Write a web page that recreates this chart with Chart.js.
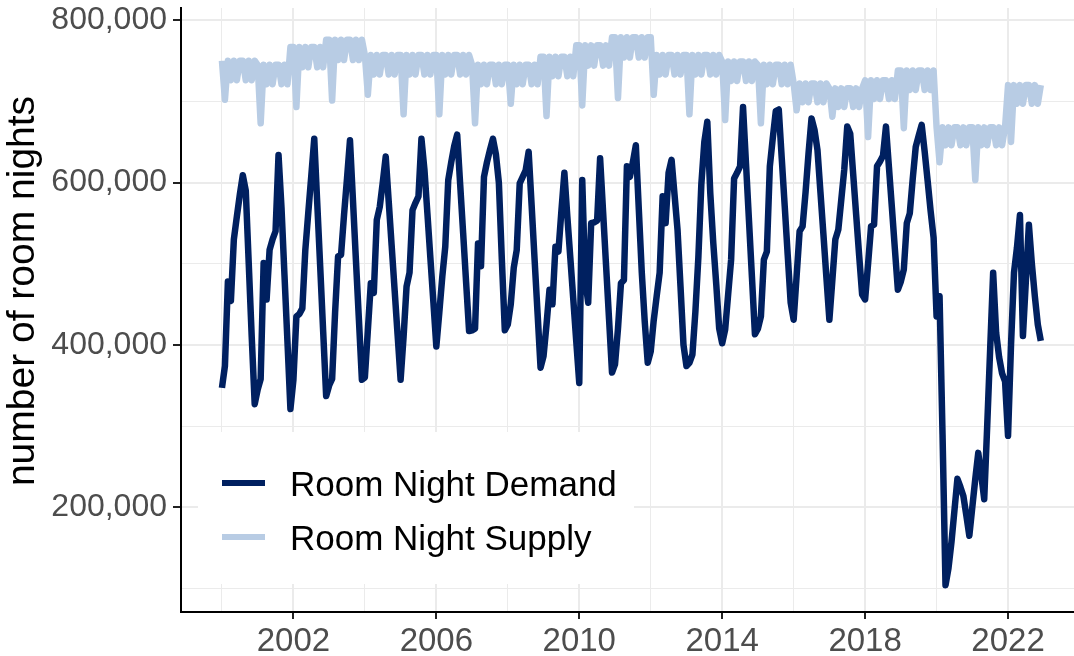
<!DOCTYPE html>
<html>
<head>
<meta charset="utf-8">
<script src="https://cdn.jsdelivr.net/npm/chart.js@4.4.0/dist/chart.umd.min.js"></script>
<style>
  html, body { margin: 0; padding: 0; background: #fff; }
  #wrap { width: 1074px; height: 656px; }
</style>
</head>
<body>
<div id="wrap"><canvas id="roomChart" width="1074" height="656"></canvas></div>
<script>
// one row per year, Jan..Dec
const years = [2000, 2001, 2002, 2003, 2004, 2005, 2006, 2007, 2008, 2009, 2010, 2011,
               2012, 2013, 2014, 2015, 2016, 2017, 2018, 2019, 2020, 2021, 2022];

const roomNightDemand = [
  347000, 374000, 478000, 454000, 530000, 558000, 585000, 609000, 590000, 500000, 410000, 327000,
  345000, 358000, 501000, 456000, 517000, 530000, 540000, 634000, 569000, 486000, 404000, 321000,
  357000, 435000, 438000, 445000, 517000, 563000, 608000, 654000, 575000, 496000, 416000, 337000,
  350000, 358000, 440000, 509000, 511000, 560000, 605000, 652000, 578000, 504000, 431000, 357000,
  360000, 418000, 476000, 464000, 554000, 570000, 600000, 632000, 577000, 522000, 467000, 412000,
  357000, 410000, 472000, 489000, 566000, 575000, 583000, 654000, 616000, 562000, 507000, 453000,
  398000, 440000, 484000, 521000, 603000, 625000, 645000, 659000, 598000, 538000, 477000, 417000,
  418000, 420000, 525000, 497000, 607000, 625000, 640000, 654000, 635000, 600000, 505000, 418000,
  425000, 450000, 495000, 517000, 599000, 607000, 615000, 638000, 572000, 505000, 439000, 372000,
  386000, 425000, 468000, 450000, 521000, 515000, 565000, 612000, 558000, 507000, 456000, 404000,
  353000, 603000, 480000, 452000, 550000, 551000, 553000, 630000, 564000, 498000, 432000, 366000,
  376000, 420000, 476000, 480000, 620000, 607000, 625000, 646000, 567000, 489000, 428000, 378000,
  392000, 430000, 460000, 489000, 583000, 550000, 612000, 628000, 585000, 542000, 472000, 400000,
  374000, 378000, 388000, 441000, 508000, 598000, 650000, 675000, 587000, 526000, 475000, 420000,
  402000, 419000, 462000, 505000, 605000, 612000, 620000, 693000, 623000, 553000, 483000, 413000,
  420000, 435000, 505000, 515000, 620000, 655000, 688000, 690000, 630000, 571000, 511000, 452000,
  431000, 485000, 540000, 546000, 588000, 636000, 679000, 665000, 640000, 588000, 536000, 483000,
  431000, 480000, 530000, 542000, 579000, 616000, 669000, 660000, 610000, 560000, 510000, 462000,
  456000, 500000, 546000, 548000, 620000, 626000, 633000, 669000, 619000, 569000, 518000, 468000,
  478000, 493000, 550000, 562000, 605000, 644000, 658000, 671000, 638000, 602000, 565000, 532000,
  435000, 460000, 290000, 104000, 125000, 157000, 196000, 235000, 225000, 214000, 190000, 165000,
  200000, 235000, 267000, 240000, 210000, 300000, 395000, 489000, 415000, 385000, 365000, 355000,
  288000, 400000, 489000, 520000, 560000, 411000, 480000, 548000, 500000, 460000, 425000, 405000
];

const roomNightSupply = [
  750000, 702000, 750000, 726000, 750000, 726000, 750000, 750000, 726000, 750000, 726000, 750000,
  745000, 673000, 745000, 721000, 745000, 721000, 745000, 745000, 721000, 745000, 721000, 767000,
  767000, 693000, 767000, 742000, 767000, 742000, 767000, 767000, 742000, 767000, 742000, 776000,
  776000, 701000, 776000, 751000, 776000, 751000, 776000, 776000, 751000, 776000, 751000, 776000,
  757000, 708000, 757000, 733000, 757000, 733000, 757000, 757000, 733000, 757000, 733000, 757000,
  757000, 684000, 757000, 733000, 757000, 733000, 757000, 757000, 733000, 757000, 733000, 757000,
  757000, 684000, 757000, 733000, 757000, 733000, 757000, 757000, 733000, 757000, 733000, 757000,
  745000, 673000, 745000, 721000, 745000, 721000, 745000, 745000, 721000, 745000, 721000, 745000,
  745000, 697000, 745000, 721000, 745000, 721000, 745000, 745000, 721000, 745000, 721000, 755000,
  755000, 682000, 755000, 731000, 755000, 731000, 755000, 755000, 731000, 755000, 731000, 769000,
  769000, 695000, 769000, 744000, 769000, 744000, 769000, 769000, 744000, 769000, 744000, 779000,
  779000, 704000, 779000, 754000, 779000, 754000, 779000, 779000, 754000, 779000, 754000, 779000,
  779000, 708000, 757000, 733000, 757000, 733000, 757000, 757000, 733000, 757000, 733000, 757000,
  757000, 684000, 757000, 733000, 757000, 733000, 757000, 757000, 733000, 757000, 733000, 757000,
  749000, 677000, 749000, 725000, 749000, 725000, 749000, 749000, 725000, 749000, 725000, 749000,
  745000, 673000, 745000, 721000, 745000, 721000, 745000, 745000, 721000, 745000, 721000, 745000,
  722000, 689000, 722000, 699000, 722000, 699000, 722000, 722000, 699000, 722000, 699000, 722000,
  716000, 681000, 716000, 693000, 716000, 693000, 716000, 716000, 693000, 716000, 693000, 716000,
  726000, 656000, 726000, 703000, 726000, 703000, 726000, 726000, 703000, 726000, 703000, 738000,
  738000, 667000, 738000, 714000, 738000, 714000, 738000, 738000, 714000, 738000, 714000, 738000,
  668000, 625000, 668000, 646000, 668000, 646000, 668000, 668000, 646000, 668000, 646000, 668000,
  668000, 603000, 668000, 646000, 668000, 646000, 668000, 668000, 646000, 668000, 646000, 668000,
  720000, 650000, 720000, 697000, 720000, 697000, 720000, 720000, 697000, 720000, 697000, 720000
];

// axis breaks: majors get labels, the ones in between are minor grid lines
const xGridYears = [2000, 2002, 2004, 2006, 2008, 2010, 2012, 2014, 2016, 2018, 2020, 2022];
const xLabelYears = [2002, 2006, 2010, 2014, 2018, 2022];
const yGridValues = [100000, 200000, 300000, 400000, 500000, 600000, 700000, 800000];
const yLabelValues = [200000, 400000, 600000, 800000];
const yTitle = 'number of room nights';

// month position as decimal year
function monthX(i) {
  return years[Math.floor(i / 12)] + (i % 12) / 12;
}

const demandPoints = roomNightDemand.map((v, i) => ({ x: monthX(i), y: v }));
const supplyPoints = roomNightSupply.map((v, i) => ({ x: monthX(i), y: v }));

const fontFamily = '"Liberation Sans", Arial, sans-serif';

// y title and the legend inside the panel (white box over the grid)
const extras = {
  id: 'extras',
  afterDraw(chart) {
    const ctx = chart.ctx;
    ctx.save();

    ctx.translate(23, 291);
    ctx.rotate(-Math.PI / 2);
    ctx.fillStyle = '#000000';
    ctx.font = '39px ' + fontFamily;
    ctx.textAlign = 'center';
    ctx.textBaseline = 'middle';
    ctx.fillText(yTitle, 0, 0);
    ctx.setTransform(1, 0, 0, 1, 0, 0);

    ctx.fillStyle = '#ffffff';
    ctx.fillRect(198, 432, 436, 152);
    ctx.textAlign = 'left';
    chart.data.datasets.forEach((ds, i) => {
      const y = 483 + i * 54;
      ctx.strokeStyle = ds.borderColor;
      ctx.lineWidth = 6;
      ctx.lineCap = 'butt';
      ctx.beginPath();
      ctx.moveTo(222, y);
      ctx.lineTo(265, y);
      ctx.stroke();
      ctx.fillStyle = '#000000';
      ctx.font = '35px ' + fontFamily;
      ctx.textBaseline = 'alphabetic';
      ctx.fillText(ds.label, 290, y + 13);
    });
    ctx.restore();
  }
};

new Chart(document.getElementById('roomChart'), {
  type: 'line',
  data: {
    datasets: [
      {
        label: 'Room Night Demand',
        data: demandPoints,
        borderColor: '#002060',
        borderWidth: 6.5,
        pointRadius: 0,
        tension: 0,
        borderJoinStyle: 'round',
        borderCapStyle: 'butt'
      },
      {
        label: 'Room Night Supply',
        data: supplyPoints,
        borderColor: '#B8CCE4',
        borderWidth: 6.5,
        pointRadius: 0,
        tension: 0,
        borderJoinStyle: 'round',
        borderCapStyle: 'butt'
      }
    ]
  },
  options: {
    responsive: false,
    animation: false,
    devicePixelRatio: 1,
    layout: { padding: { top: 8, right: 0, bottom: 0, left: 0 } },
    plugins: {
      legend: { display: false },
      tooltip: { enabled: false }
    },
    scales: {
      x: {
        type: 'linear',
        min: 1998.854,
        max: 2023.846,
        afterBuildTicks: s => { s.ticks = xGridYears.map(v => ({ value: v })); },
        afterFit: s => { s.height = 44; s.paddingLeft = 0; s.paddingRight = 0; },
        ticks: {
          autoSkip: false,
          maxRotation: 0,
          padding: 3,
          color: '#4d4d4d',
          font: { family: fontFamily, size: 33 },
          callback: v => xLabelYears.includes(v) ? String(v) : ''
        },
        grid: {
          color: '#ebebeb',
          lineWidth: c => xLabelYears.includes(c.tick.value) ? 2 : 1,
          tickLength: 7,
          tickWidth: 2,
          tickColor: c => xLabelYears.includes(c.tick.value) ? '#222222' : 'rgba(0,0,0,0)'
        },
        border: { display: true, color: '#000000', width: 2 }
      },
      y: {
        min: 71000,
        max: 815000,
        afterBuildTicks: s => { s.ticks = yGridValues.map(v => ({ value: v })); },
        afterFit: s => { s.width = 181; s.paddingTop = 0; s.paddingBottom = 0; },
        ticks: {
          autoSkip: false,
          padding: 6,
          color: '#4d4d4d',
          font: { family: fontFamily, size: 32 },
          callback: v => yLabelValues.includes(v) ? v.toLocaleString('en-US') : ''
        },
        grid: {
          color: '#ebebeb',
          lineWidth: c => yLabelValues.includes(c.tick.value) ? 2 : 1,
          tickLength: 8,
          tickWidth: 2,
          tickColor: c => yLabelValues.includes(c.tick.value) ? '#222222' : 'rgba(0,0,0,0)'
        },
        border: { display: true, color: '#000000', width: 2 }
      }
    }
  },
  plugins: [extras]
});
</script>
</body>
</html>
